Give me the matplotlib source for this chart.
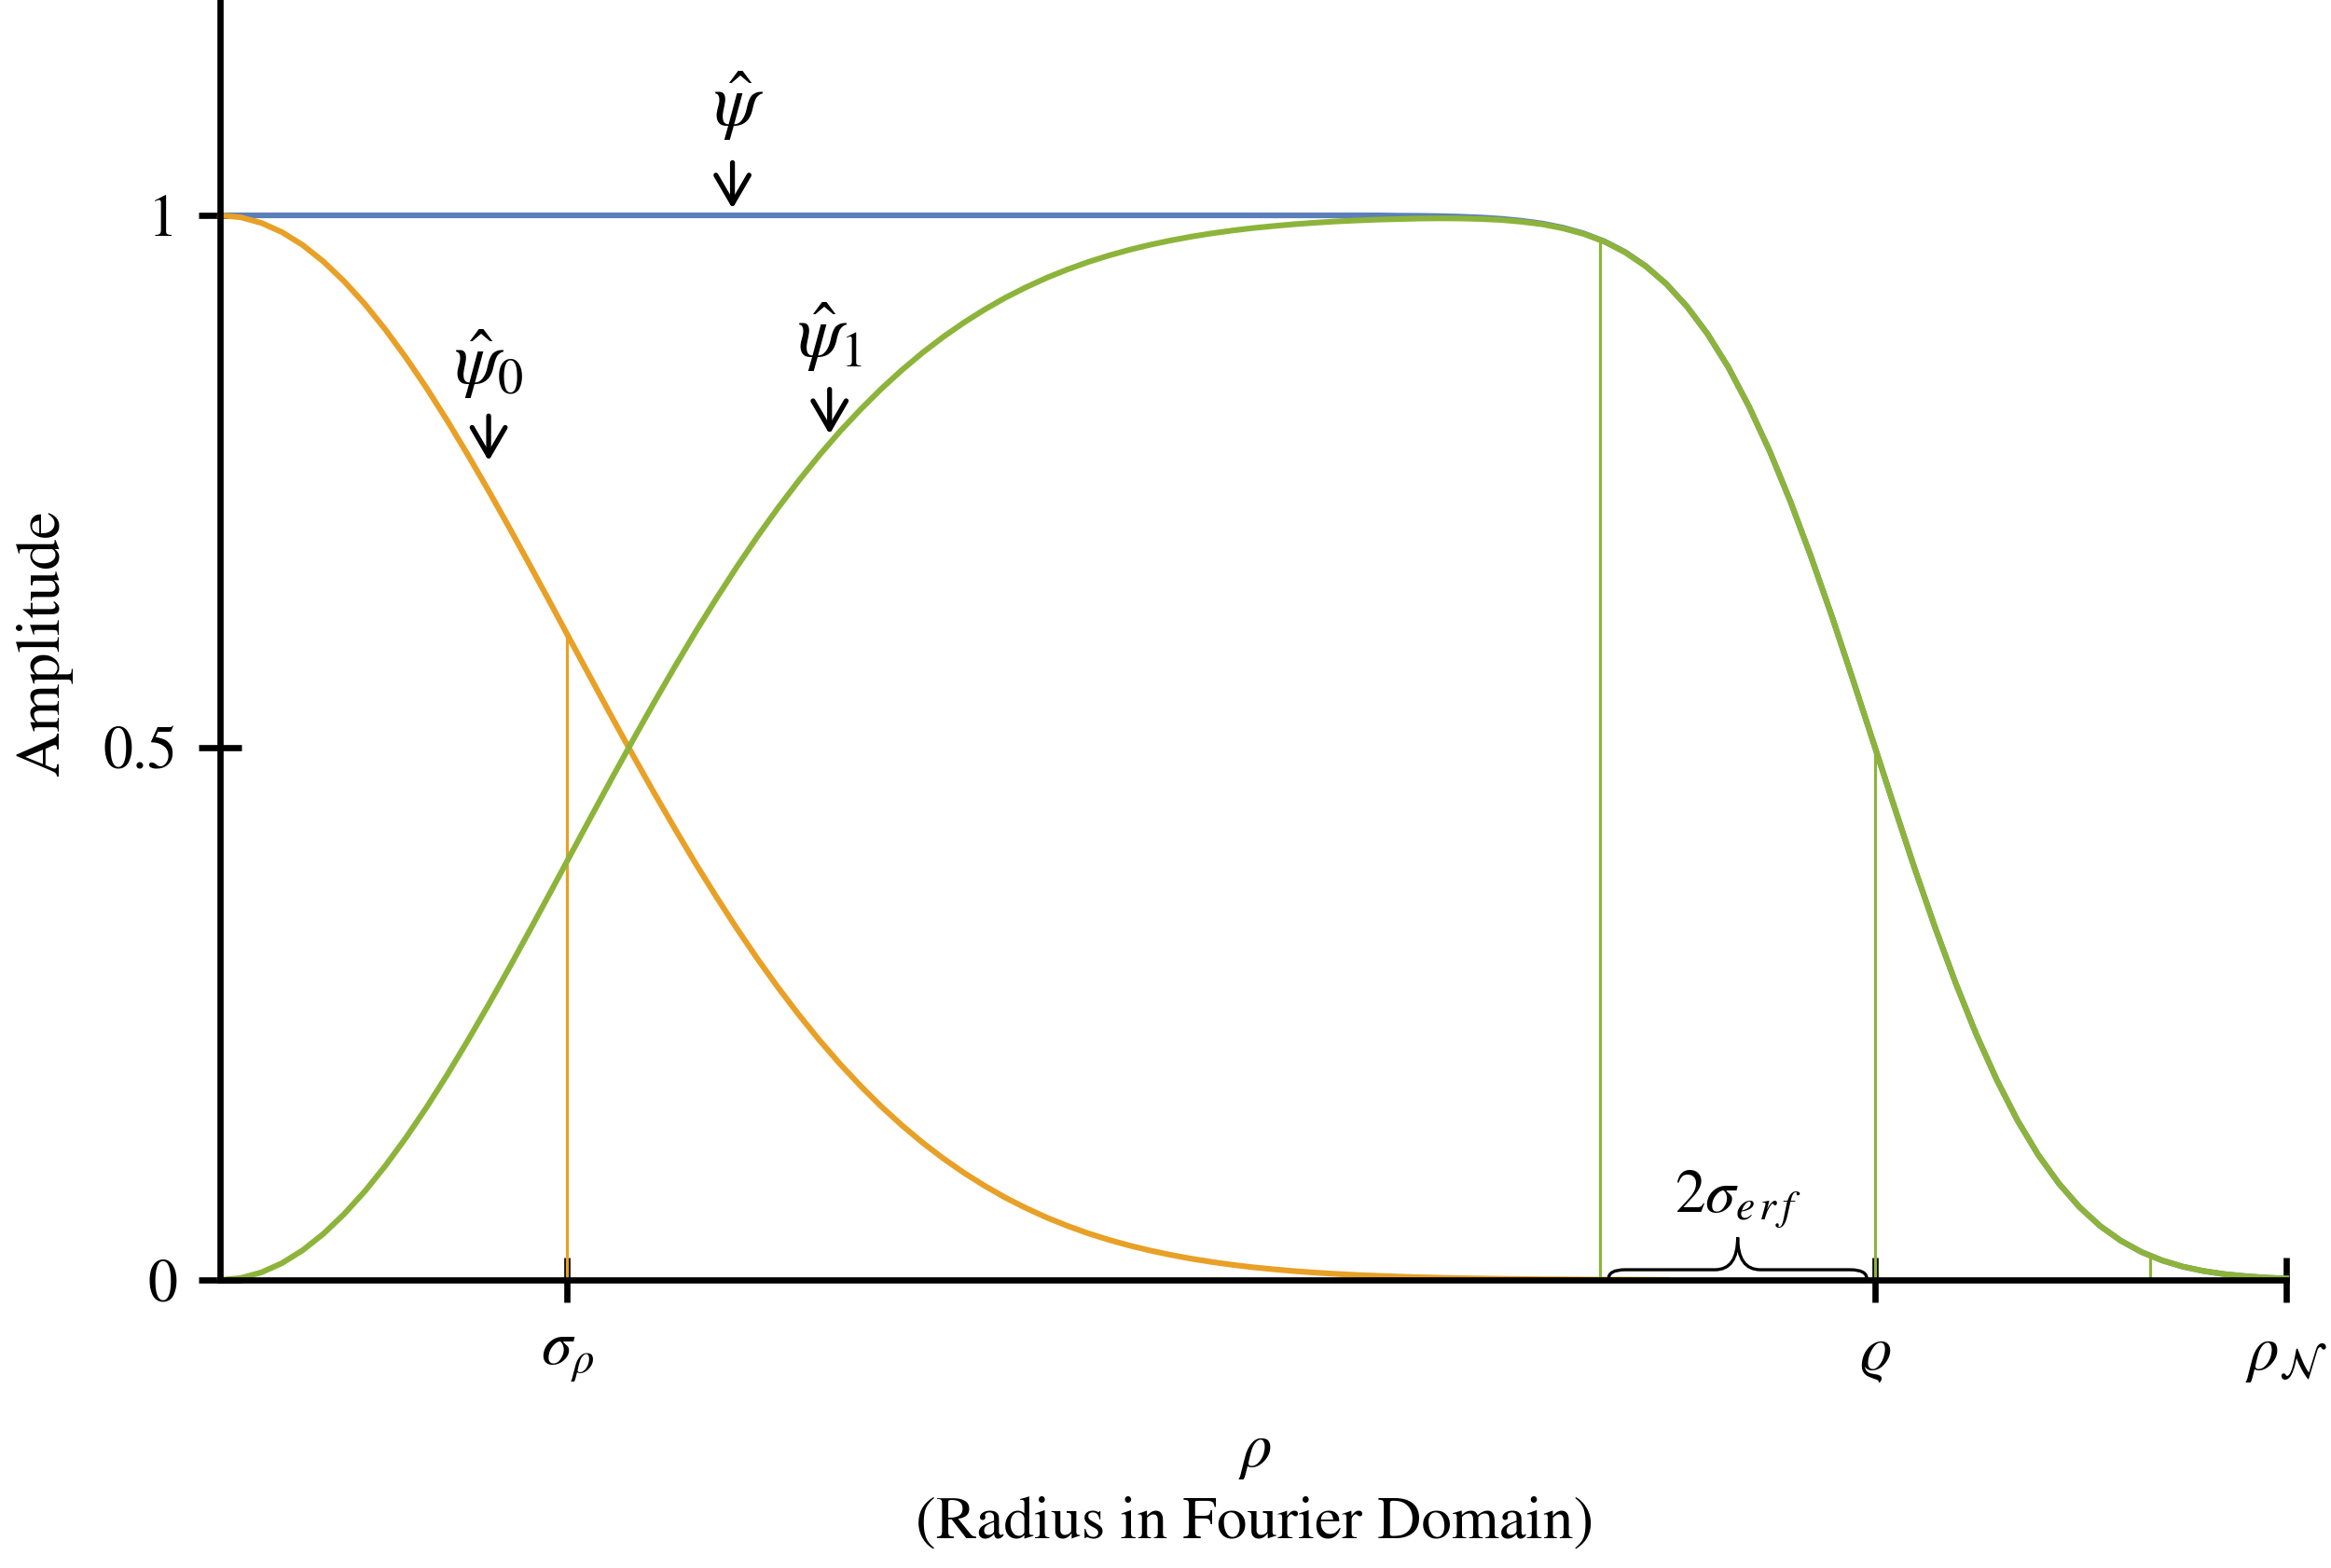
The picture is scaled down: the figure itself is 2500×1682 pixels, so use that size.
import matplotlib.pyplot as plt
from matplotlib.path import Path
from matplotlib.patches import PathPatch

plt.rcParams['font.family'] = ['STIXGeneral', 'DejaVu Serif']
plt.rcParams['mathtext.fontset'] = 'stix'

# radius samples (rho_N = 1)
rho = [round(0.01 * i, 2) for i in range(101)]

psi_0 = [1.0, 0.9982, 0.9929, 0.9842, 0.9721, 0.9567, 0.9382, 0.9169, 0.8928,
         0.8663, 0.8377, 0.8071, 0.7748, 0.7413, 0.7067, 0.6713, 0.6354,
         0.5993, 0.5633, 0.5275, 0.4923, 0.4578, 0.4243, 0.3917, 0.3605,
         0.3305, 0.3019, 0.2749, 0.2494, 0.2254, 0.2030, 0.1823, 0.1630,
         0.1453, 0.1290, 0.1142, 0.1007, 0.0885, 0.0774, 0.0676, 0.0587,
         0.0509, 0.0439, 0.0378, 0.0324, 0.0277, 0.0236, 0.0200, 0.0169,
         0.0142, 0.0119, 0.0100, 0.0083, 0.0069, 0.0057, 0.0047, 0.0039,
         0.0032, 0.0026, 0.0021, 0.0017, 0.0014, 0.0011, 0.0009, 0.0007,
         0.0006, 0.0004, 0.0003, 0.0003, 0.0002, 0.0001]

# band-pass part
psi_1 = [0.0, 0.0018, 0.0071, 0.0158, 0.0279, 0.0433, 0.0618, 0.0831, 0.1072,
         0.1337, 0.1623, 0.1929, 0.2252, 0.2587, 0.2933, 0.3287, 0.3646,
         0.4007, 0.4367, 0.4725, 0.5077, 0.5422, 0.5757, 0.6083, 0.6395,
         0.6695, 0.6981, 0.7251, 0.7506, 0.7746, 0.7970, 0.8177, 0.8370,
         0.8547, 0.8710, 0.8858, 0.8993, 0.9115, 0.9226, 0.9324, 0.9413,
         0.9491, 0.9561, 0.9622, 0.9676, 0.9723, 0.9764, 0.9800, 0.9831,
         0.9858, 0.9881, 0.9900, 0.9917, 0.9931, 0.9943, 0.9952, 0.9960,
         0.9965, 0.9970, 0.9972, 0.9971, 0.9966, 0.9957, 0.9940, 0.9916,
         0.9878, 0.9826, 0.9753, 0.9653, 0.9522, 0.9355, 0.9143, 0.8884,
         0.8573, 0.8204, 0.7785, 0.7314, 0.6794, 0.6240, 0.5655, 0.5060,
         0.4463, 0.3874, 0.3314, 0.2789, 0.2306, 0.1875, 0.1496, 0.1174,
         0.0905, 0.0683, 0.0506, 0.0368, 0.0262, 0.0183, 0.0125, 0.0084,
         0.0055, 0.0036, 0.0022, 0.0014]

# sum of both (flat at 1, then follows psi_1)
psi_hat = [1.0] * 57 + [0.9997, 0.9996, 0.9993, 0.9988, 0.9980, 0.9968,
                        0.9949, 0.9923, 0.9884, 0.9830, 0.9756, 0.9656,
                        0.9524, 0.9356] + psi_1[71:]

sigma_rho = 0.168
varrho = 0.801
rho_N = 1.0
sigma_top = 0.607
guide_x = [0.668, 0.801, 0.934]
guide_top = [0.977, 0.5, 0.021]

blue = '#5b7fba'
orange = '#e8a026'
green = '#8db43a'

fig = plt.figure(figsize=(25, 16.82), dpi=100)
ax = fig.add_axes([0.0944, 0.1837, 0.8864, 0.8163])

ax.plot(rho, psi_hat, color=blue, lw=4.4, clip_on=False, zorder=2)
ax.plot(rho[:len(psi_0)], psi_0, color=orange, lw=4.4, clip_on=False,
        zorder=3)
ax.plot(rho, psi_1, color=green, lw=4.4, clip_on=False, zorder=4)

ax.vlines([sigma_rho], 0, [sigma_top], color=orange, lw=2.3, zorder=3)
ax.vlines(guide_x, 0, guide_top, color=green, lw=2.3, zorder=4)

ax.set_xlim(0, rho_N)
ax.set_ylim(0, 1.2023)

for s in ['top', 'right']:
    ax.spines[s].set_visible(False)
for s in ['left', 'bottom']:
    ax.spines[s].set_linewidth(4.8)
    ax.spines[s].set_zorder(6)

ax.set_yticks([0, 0.5, 1])
ax.set_yticklabels(['0', '0.5', '1'])
ax.set_xticks([sigma_rho, varrho, rho_N])
ax.set_xticklabels([r'$\sigma_\rho$', r'$\varrho$', r'$\rho_\mathcal{N}$'])
ax.tick_params(axis='y', direction='inout', length=33, width=4.8,
               labelsize=46, pad=16)
ax.tick_params(axis='x', direction='inout', length=34, width=4.8,
               labelsize=48, pad=20)

# curve labels with arrows
arrow = dict(arrowstyle='->, head_length=0.55, head_width=0.32',
             lw=3.8, color='black', mutation_scale=40)
ax.text(0.251, 1.103, r'$\hat{\psi}$', fontsize=56, ha='center', va='center')
ax.annotate('', xy=(0.248, 1.004), xytext=(0.248, 1.052), arrowprops=arrow)
ax.text(0.130, 0.860, r'$\hat{\psi}_0$', fontsize=56, ha='center', va='center')
ax.annotate('', xy=(0.130, 0.767), xytext=(0.130, 0.814), arrowprops=arrow)
ax.text(0.295, 0.886, r'$\hat{\psi}_1$', fontsize=56, ha='center', va='center')
ax.annotate('', xy=(0.295, 0.792), xytext=(0.295, 0.839), arrowprops=arrow)

# brace for 2 sigma_erf
x0, x1, yb, ya, yt = 0.672, 0.797, 0.001, 0.0096, 0.040
xm = (x0 + x1) / 2
verts = [(x0, yb), (x0, ya), (x0 + 0.008, ya), (xm - 0.011, ya),
         (xm, ya), (xm, yt), (xm, ya), (xm + 0.011, ya),
         (x1 - 0.008, ya), (x1, ya), (x1, yb)]
codes = [Path.MOVETO, Path.CURVE3, Path.CURVE3, Path.LINETO,
         Path.CURVE3, Path.CURVE3, Path.CURVE3, Path.CURVE3,
         Path.LINETO, Path.CURVE3, Path.CURVE3]
ax.add_patch(PathPatch(Path(verts, codes), fill=False, lw=2.4,
                       color='black', zorder=5, clip_on=False))
ax.text(xm, 0.064, r'$2\sigma_{e\,r\,f}$', fontsize=47, ha='center',
        va='baseline')

fig.text(0.019, 0.590, 'Amplitude', fontsize=48, rotation=90,
         ha='center', va='center')
fig.text(0.5384, 0.065, r'$\rho$', fontsize=48, ha='center', va='baseline')
fig.text(0.5384, 0.0196, '(Radius in Fourier Domain)', fontsize=47,
         ha='center', va='baseline')

fig.savefig('out.png', dpi=100)
